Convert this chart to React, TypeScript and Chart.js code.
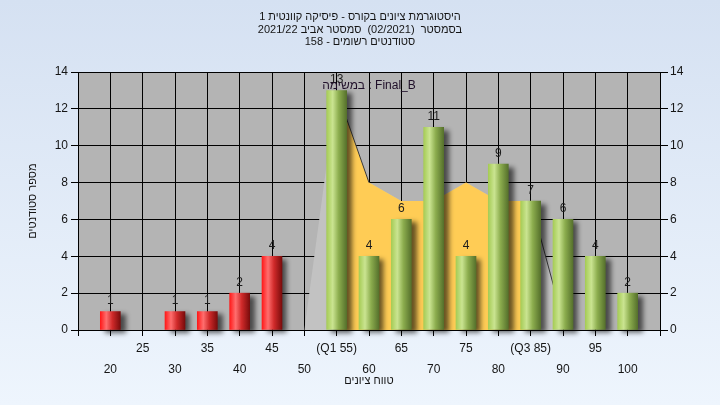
import React, { useEffect, useRef } from "react";
import { Chart, registerables } from "chart.js";

Chart.register(...registerables);

// ---- data ----
const gradeBins = [20, 25, 30, 35, 40, 45, 50, 55, 60, 65, 70, 75, 80, 85, 90, 95, 100];
const studentCounts = [1, 0, 1, 1, 2, 4, 0, 13, 4, 6, 11, 4, 9, 7, 6, 4, 2];
const passMark = 55;
const curveGrades = [50, 55, 60, 65, 70, 75, 80, 85, 90];
const curveValues = [0, 13, 8, 7, 7, 8, 7, 7, 0.5];
const q1Grade = 55;
const q3Grade = 85;
const titleLines = [
  "היסטוגרמת ציונים בקורס - פיסיקה קוונטית 1",
  "בסמסטר  (02/2021)  סמסטר אביב 2021/22",
  "סטודנטים רשומים - 158",
];
const xTitle = "טווח ציונים";
const yTitle = "מספר סטודנטים";
const taskLabel = "במשימה : Final_B";

const FONT = "'Liberation Sans', 'DejaVu Sans', Arial, sans-serif";

const barPoints = gradeBins.map((g, i) => ({ x: g, y: studentCounts[i] }));
const curvePoints = curveGrades.map((g, i) => ({ x: g, y: curveValues[i] }));
const iqrPoints = curvePoints.filter((p) => p.x >= q1Grade && p.x <= q3Grade);
const edgePoints = curvePoints.map((p) =>
  (p.x >= q1Grade && p.x <= q1Grade + 5) || (p.x >= q3Grade && p.x <= q3Grade + 5) ? p : { x: p.x, y: null }
);

function barGradient(ctx: any) {
  const chart = ctx.chart;
  const xs = chart.scales && chart.scales.x;
  const raw = ctx.raw;
  if (raw && !raw.y) return "rgba(0,0,0,0)";
  const fail = raw && raw.x < passMark;
  const fallback = fail ? "#e02020" : "#9ec84e";
  if (!xs || !raw) return fallback;
  const px = xs.getPixelForValue(raw.x);
  if (!isFinite(px)) return fallback;
  const g = chart.ctx.createLinearGradient(px - 10, 0, px + 10, 0);
  if (fail) {
    g.addColorStop(0, "#ff1a1a");
    g.addColorStop(0.3, "#ff6e6e");
    g.addColorStop(0.6, "#d02a2a");
    g.addColorStop(1, "#7a0c0c");
  } else {
    g.addColorStop(0, "#a6cc56");
    g.addColorStop(0.3, "#cae491");
    g.addColorStop(0.6, "#8cad4e");
    g.addColorStop(1, "#56712c");
  }
  return g;
}

const bgPlugin = {
  id: "plotBg",
  beforeDraw(chart: any) {
    const { ctx, chartArea: a } = chart;
    ctx.save();
    ctx.fillStyle = "#b4b4b4";
    ctx.fillRect(a.left, a.top, a.right - a.left, a.bottom - a.top);
    ctx.restore();
  },
};

const shadowPlugin = {
  id: "barShadow",
  beforeDatasetDraw(chart: any, args: any) {
    if (args.meta.type !== "bar") return;
    const ctx = chart.ctx;
    ctx.save();
    ctx.shadowColor = "rgba(0,0,0,0.6)";
    ctx.shadowBlur = 5;
    ctx.shadowOffsetX = 5;
    ctx.shadowOffsetY = 3;
  },
  afterDatasetDraw(chart: any, args: any) {
    if (args.meta.type !== "bar") return;
    chart.ctx.restore();
  },
};

const labelPlugin = {
  id: "valueLabels",
  afterDatasetsDraw(chart: any) {
    const ctx = chart.ctx;
    const meta = chart.getDatasetMeta(0);
    const a = chart.chartArea;
    ctx.save();
    ctx.font = `12px ${FONT}`;
    ctx.fillStyle = "#1c1c1c";
    ctx.textAlign = "center";
    ctx.textBaseline = "alphabetic";
    meta.data.forEach((bar: any, i: number) => {
      const v = studentCounts[i];
      if (!v) return;
      ctx.fillText(String(v), bar.x, bar.y - 7.5);
    });
    ctx.fillStyle = "#20102a";
    ctx.fillText(taskLabel, (a.left + a.right) / 2, a.top + 17);
    ctx.restore();
  },
};

export default function App() {
  const ref = useRef<HTMLCanvasElement>(null);
  useEffect(() => {
    const chart = new Chart(ref.current as HTMLCanvasElement, {
      type: "bar",
      data: {
        datasets: [
          {
            type: "bar",
            data: barPoints as any,
            backgroundColor: barGradient as any,
            borderWidth: 0,
            barThickness: 20,
            clip: false as any,
            order: 0,
          },
          {
            type: "line",
            data: edgePoints as any,
            borderColor: "#3a3a3a",
            borderWidth: 1,
            pointRadius: 0,
            fill: false,
            spanGaps: false,
            order: 1,
          },
          {
            type: "line",
            data: iqrPoints as any,
            borderWidth: 0,
            borderColor: "rgba(0,0,0,0)",
            backgroundColor: "#ffcc55",
            pointRadius: 0,
            fill: "origin",
            order: 2,
          },
          {
            type: "line",
            data: curvePoints as any,
            borderWidth: 0,
            borderColor: "rgba(0,0,0,0)",
            backgroundColor: "#c2c2c2",
            pointRadius: 0,
            fill: "origin",
            order: 3,
          },
        ],
      },
      options: {
        responsive: false,
        devicePixelRatio: 1,
        animation: false,
        events: [],
        layout: { padding: 0 },
        plugins: {
          legend: { display: false },
          tooltip: { enabled: false },
          title: {
            display: true,
            text: titleLines,
            color: "#151515",
            font: { family: FONT, size: 11, weight: "normal", lineHeight: 1.15 },
            padding: { top: 10.7, bottom: 23.4 },
          },
        },
        scales: {
          x: {
            type: "linear",
            min: 15,
            max: 105,
            offset: false,
            ticks: {
              stepSize: 5,
              autoSkip: false,
              maxRotation: 0,
              minRotation: 0,
              padding: 2,
              color: "#151515",
              font: { family: FONT, size: 12, lineHeight: 1.75 },
              callback: (v: any) => {
                const n = Number(v);
                if (n <= 15 || n >= 105) return "";
                if (n % 10 === 0) return ["", String(n)];
                if (n === q1Grade) return [`(Q1 ${n})`, ""];
                if (n === q3Grade) return [`(Q3 ${n})`, ""];
                return [String(n), ""];
              },
            },
            grid: { color: "#000", lineWidth: 1, tickLength: 6, offset: false, drawTicks: true },
            border: { color: "#000", width: 1 },
            title: {
              display: true,
              text: xTitle,
              color: "#151515",
              font: { family: FONT, size: 11, lineHeight: 1.2 },
              padding: { top: 0, bottom: 17 },
            },
            afterFit: (s: any) => {
              s.height = 75;
            },
          } as any,
          y: {
            position: "left",
            min: 0,
            max: 14,
            ticks: { stepSize: 2, padding: 3, color: "#151515", font: { family: FONT, size: 12 } },
            grid: { color: "#000", lineWidth: 1, tickLength: 7 },
            border: { color: "#000", width: 1 },
            title: {
              display: true,
              text: yTitle,
              color: "#151515",
              font: { family: FONT, size: 11, lineHeight: 1.2 },
              padding: { top: 26, bottom: 0 },
            },
            afterFit: (s: any) => {
              s.width = 78;
            },
          } as any,
          y2: {
            position: "right",
            min: 0,
            max: 14,
            ticks: { stepSize: 2, padding: 2, color: "#151515", font: { family: FONT, size: 12 } },
            grid: { drawOnChartArea: false, color: "#000", lineWidth: 1, tickLength: 8 },
            border: { color: "#000", width: 1 },
            afterFit: (s: any) => {
              s.width = 60;
            },
          } as any,
        },
      },
      plugins: [bgPlugin, shadowPlugin, labelPlugin],
    } as any);
    return () => chart.destroy();
  }, []);
  return (
    <div
      style={{
        position: "fixed",
        left: 0,
        top: 0,
        width: 720,
        height: 405,
        background: "linear-gradient(180deg, #d5e1f2 0%, #eef5fd 100%)",
      }}
    >
      <canvas ref={ref} width={720} height={405} style={{ display: "block", width: 720, height: 405 }} />
    </div>
  );
}
